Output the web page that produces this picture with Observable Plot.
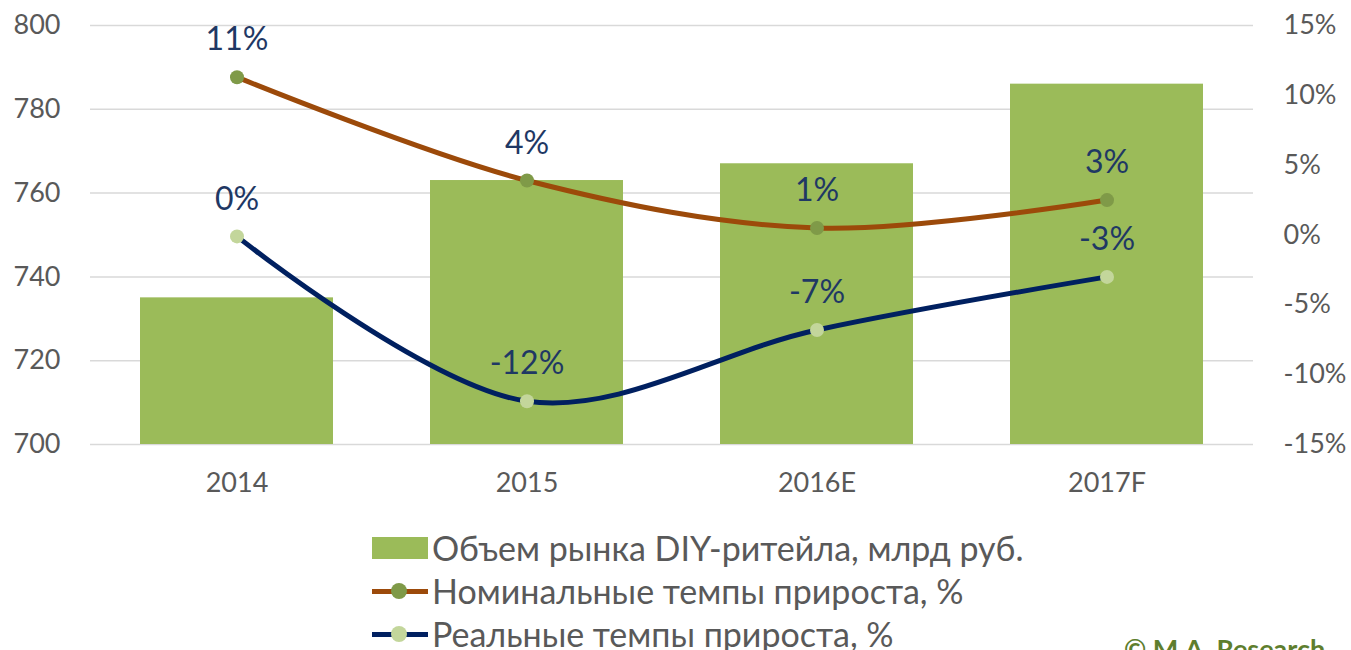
<!DOCTYPE html>
<html>
<head>
<meta charset="utf-8">
<script src="https://cdn.jsdelivr.net/npm/d3@7"></script>
<script src="https://cdn.jsdelivr.net/npm/@observablehq/plot@0.6"></script>
<style>
  html, body { margin: 0; padding: 0; background: #fff; overflow: hidden; }
  body { width: 1351px; height: 650px; position: relative; font-family: Lato, "Open Sans", sans-serif; }
  #legend { position: absolute; left: 372px; top: 526px; }
  .row { height: 43px; display: flex; align-items: center; font-size: 34px; color: #595959; white-space: nowrap; }
  .sw { width: 56px; height: 22px; position: relative; margin-right: 4px; flex: none; }
  .rect { position: absolute; left: 0; top: 0; width: 56px; height: 22px; background: #9BBB59; }
  .ln { position: absolute; left: 0; top: 9px; width: 56px; height: 5px; }
  .dt { position: absolute; left: 19px; top: 3px; width: 16px; height: 16px; border-radius: 50%; }
  #wm { position: absolute; left: 1124px; top: 632px; font-size: 27px; font-weight: bold; color: #5E7E2E; white-space: nowrap; }
</style>
</head>
<body>
<div id="chart"></div>
<div id="legend"></div>
<div id="wm">© M.A. Research</div>
<script>
const years = ["2014", "2015", "2016E", "2017F"];
const volume = [735, 763, 767, 786];
const nominal = [11.3, 3.9, 0.5, 2.5];
const real = [-0.1, -11.9, -6.8, -3.0];
const nominalLabels = ["11%", "4%", "1%", "3%"];
const realLabels = ["0%", "-12%", "-7%", "-3%"];
const leftTicks = [700, 720, 740, 760, 780, 800];
const rightTicks = [-15, -10, -5, 0, 5, 10, 15];
const seriesNames = ["Объем рынка DIY-ритейла, млрд руб.", "Номинальные темпы прироста, %", "Реальные темпы прироста, %"];

// map right-axis percentage onto left-axis domain
const toLeft = p => 700 + (p + 15) / 30 * 100;

const bars = years.map((y, i) => ({year: y, v: volume[i]}));
const nom = years.map((y, i) => ({year: y, v: toLeft(nominal[i]), label: nominalLabels[i]}));
const rea = years.map((y, i) => ({year: y, v: toLeft(real[i]), label: realLabels[i]}));

const font = "Lato, 'Open Sans', sans-serif";
const chart = Plot.plot({
  width: 1351,
  height: 500,
  marginLeft: 90,
  marginRight: 98,
  marginTop: 25,
  marginBottom: 56,
  style: {fontFamily: font, background: "#fff"},
  x: {domain: years, paddingInner: 0.336, paddingOuter: 0.168, label: null},
  y: {domain: [700, 800], label: null},
  marks: [
    Plot.gridY(leftTicks, {stroke: "#D9D9D9", strokeOpacity: 1, strokeWidth: 1.5}),
    Plot.barY(bars, {x: "year", y1: 700, y2: "v", fill: "#9BBB59"}),
    Plot.axisY(leftTicks, {anchor: "left", tickSize: 0, tickPadding: 30, fontSize: 27, fill: "#595959", label: null}),
    Plot.axisY(rightTicks.map(toLeft), {anchor: "right", tickSize: 0, tickPadding: 30, fontSize: 27, fill: "#595959", label: null,
      tickFormat: v => Math.round((v - 700) / 100 * 30 - 15) + "%"}),
    Plot.axisX({tickSize: 0, tickPadding: 28, fontSize: 27, fill: "#595959", label: null}),
    Plot.lineY(nom, {x: "year", y: "v", stroke: "#9C4A0A", strokeWidth: 5, curve: "catmull-rom"}),
    Plot.lineY(rea, {x: "year", y: "v", stroke: "#002060", strokeWidth: 5, curve: "catmull-rom"}),
    Plot.dot(nom, {x: "year", y: "v", r: 7, fill: "#7F9A48"}),
    Plot.dot(rea, {x: "year", y: "v", r: 7, fill: "#C3D69B"}),
    Plot.text(nom, {x: "year", y: "v", text: "label", dy: -37, fontSize: 32, fill: "#1F3864"}),
    Plot.text(rea, {x: "year", y: "v", text: "label", dy: -37, fontSize: 32, fill: "#1F3864"})
  ]
});
document.getElementById("chart").appendChild(chart);

const legend = document.getElementById("legend");
const styles = [
  {type: "rect"},
  {type: "line", stroke: "#9C4A0A", dot: "#7F9A48"},
  {type: "line", stroke: "#002060", dot: "#C3D69B"}
];
seriesNames.forEach((name, i) => {
  const row = document.createElement("div");
  row.className = "row";
  const sw = document.createElement("div");
  sw.className = "sw";
  const s = styles[i];
  if (s.type === "rect") {
    sw.innerHTML = '<div class="rect"></div>';
  } else {
    sw.innerHTML = `<div class="ln" style="background:${s.stroke}"></div><div class="dt" style="background:${s.dot}"></div>`;
  }
  row.appendChild(sw);
  const t = document.createElement("span");
  t.textContent = name;
  row.appendChild(t);
  legend.appendChild(row);
});
</script>
</body>
</html>
